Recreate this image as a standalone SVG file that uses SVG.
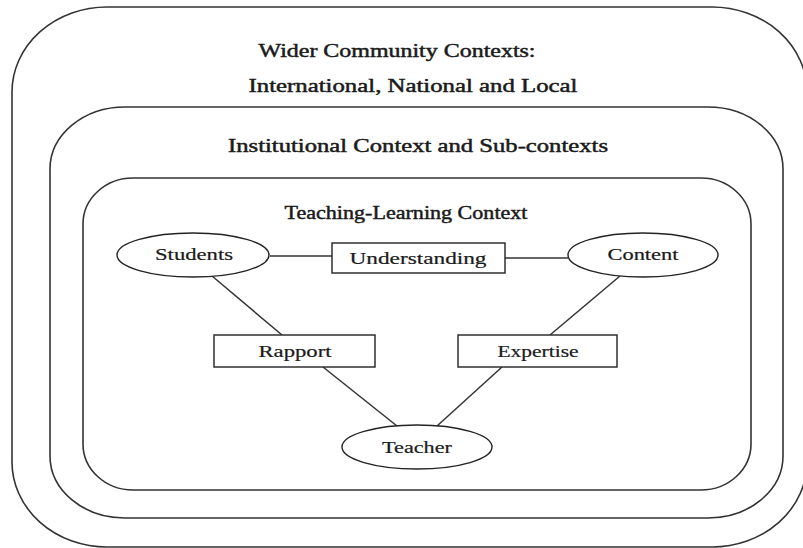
<svg xmlns="http://www.w3.org/2000/svg" width="803" height="548" viewBox="0 0 803 548">
<style>
.ctx{fill:none;stroke:#333;stroke-width:1.6}
.nd{fill:#fff;stroke:#222;stroke-width:1.4}
.ln{stroke:#333;stroke-width:1.5;fill:none}
text{font-family:"Liberation Serif","DejaVu Serif",serif;fill:#1a1a1a;text-anchor:middle}
.t1{font-size:18px;stroke:#1a1a1a;stroke-width:0.45}
.t2{font-size:16px;stroke:#1a1a1a;stroke-width:0.2}
</style>
<rect width="803" height="548" fill="#fff"/>
<g id="ctx-wider">
<rect class="ctx" x="12" y="7" width="795" height="540" rx="95" ry="85"/>
<text class="t1" x="397" y="57" textLength="277" lengthAdjust="spacingAndGlyphs">Wider Community Contexts:</text>
<text class="t1" x="413" y="92" textLength="329" lengthAdjust="spacingAndGlyphs">International, National and Local</text>
</g>
<g id="ctx-institutional">
<rect class="ctx" x="50" y="107" width="733" height="411" rx="75" ry="62"/>
<text class="t1" x="418" y="152" textLength="380" lengthAdjust="spacingAndGlyphs">Institutional Context and Sub-contexts</text>
</g>
<g id="ctx-teaching">
<rect class="ctx" x="83" y="178" width="668" height="312" rx="50" ry="46"/>
<text class="t1" x="406" y="219" textLength="243" lengthAdjust="spacingAndGlyphs">Teaching-Learning Context</text>
</g>
<g id="connectors">
<line class="ln" x1="270" y1="256" x2="332" y2="256"/>
<line class="ln" x1="505" y1="258" x2="568" y2="258"/>
<line class="ln" x1="212" y1="276" x2="282" y2="335"/>
<line class="ln" x1="620" y1="276" x2="550" y2="335"/>
<line class="ln" x1="323" y1="367" x2="397" y2="426"/>
<line class="ln" x1="502" y1="367" x2="437" y2="426"/>
</g>
<g id="students">
<ellipse class="nd" cx="193" cy="255" rx="76" ry="22"/>
<text class="t2" x="194" y="260" textLength="78" lengthAdjust="spacingAndGlyphs">Students</text>
</g>
<g id="understanding">
<rect class="nd" x="332" y="243" width="173" height="30"/>
<text class="t2" x="418" y="264" textLength="137" lengthAdjust="spacingAndGlyphs">Understanding</text>
</g>
<g id="content">
<ellipse class="nd" cx="643" cy="255" rx="75" ry="22"/>
<text class="t2" x="643" y="260" textLength="71" lengthAdjust="spacingAndGlyphs">Content</text>
</g>
<g id="rapport">
<rect class="nd" x="214" y="335" width="161" height="32"/>
<text class="t2" x="295" y="357" textLength="73" lengthAdjust="spacingAndGlyphs">Rapport</text>
</g>
<g id="expertise">
<rect class="nd" x="458" y="335" width="159" height="32"/>
<text class="t2" x="538" y="357" textLength="81" lengthAdjust="spacingAndGlyphs">Expertise</text>
</g>
<g id="teacher">
<ellipse class="nd" cx="417" cy="447" rx="75" ry="22"/>
<text class="t2" x="417" y="453" textLength="70" lengthAdjust="spacingAndGlyphs">Teacher</text>
</g>
</svg>
